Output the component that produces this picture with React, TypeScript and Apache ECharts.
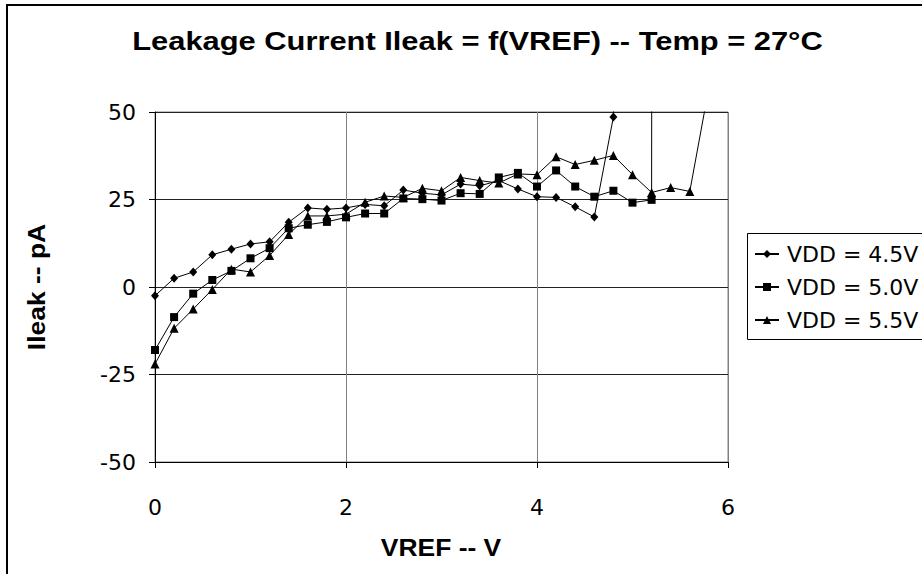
import React, { useEffect, useRef } from "react";
import * as echarts from "echarts";

const vref = [0, 0.2, 0.4, 0.6, 0.8, 1.0, 1.2, 1.4, 1.6, 1.8, 2.0, 2.2, 2.4, 2.6, 2.8, 3.0, 3.2, 3.4, 3.6, 3.8, 4.0, 4.2, 4.4, 4.6, 4.8, 5.0, 5.2, 5.4, 5.6, 5.8];

const vdd45 = [-2.5, 2.5, 4.3, 9.2, 10.8, 12.3, 12.9, 18.5, 22.6, 22.2, 22.6, 23.6, 23.2, 27.7, 26.8, 26.3, 29.4, 28.9, 30.4, 28.0, 25.8, 25.6, 22.9, 20.0, 48.6, 400];
const vdd50 = [-18.0, -8.6, -1.9, 2.0, 4.6, 8.2, 11.1, 16.8, 17.8, 18.6, 19.9, 21.0, 21.0, 25.3, 25.1, 24.7, 26.8, 26.6, 31.3, 32.6, 28.7, 33.3, 28.7, 25.8, 27.5, 24.1, 24.9, 5000];
const vdd55 = [-22.0, -11.8, -6.3, -0.7, 5.1, 4.3, 9.0, 15.0, 20.3, 20.3, 20.8, 24.2, 26.0, 25.6, 28.2, 27.5, 31.3, 30.4, 29.7, 32.3, 32.1, 37.2, 35.0, 36.2, 37.6, 32.1, 27.0, 28.4, 27.3, 57];

const seriesNames = ["VDD = 4.5V", "VDD = 5.0V", "VDD = 5.5V"];
const titleText = "Leakage Current Ileak = f(VREF) -- Temp = 27°C";
const xAxisTitle = "VREF -- V";
const yAxisTitle = "Ileak -- pA";

const FONT = '"Liberation Sans", Arial, sans-serif';
const WIDE = '"DejaVu Sans", "Liberation Sans", sans-serif';

export default function App() {
  const ref = useRef<HTMLDivElement>(null);
  useEffect(() => {
    document.body.style.margin = "0";
    const chart = echarts.init(ref.current!, null, { renderer: "svg" });
    const pair = (ys: number[]) => ys.map((y, i) => [vref[i], y]);
    const common = {
      type: "line",
      color: "#000",
      lineStyle: { color: "#000", width: 1 },
      itemStyle: { color: "#000" },
      clip: true,
      showSymbol: true,
    };
    chart.setOption({
      animation: false,
      backgroundColor: "#fff",
      textStyle: { fontFamily: WIDE },
      grid: {
        left: 155,
        top: 112,
        width: 573,
        height: 350,
        show: true,
        borderColor: "#808080",
        borderWidth: 1,
        containLabel: false,
      },
      xAxis: {
        type: "value",
        min: 0,
        max: 6,
        interval: 2,
        axisLine: { show: true, onZero: false, lineStyle: { color: "#000", width: 1 } },
        axisTick: { show: true, length: 6, lineStyle: { color: "#000" } },
        axisLabel: { color: "#000", fontSize: 22, margin: 34, fontFamily: WIDE },
        splitLine: { show: true, lineStyle: { color: "#808080", width: 1 } },
      },
      yAxis: {
        type: "value",
        min: -50,
        max: 50,
        interval: 25,
        axisLine: { show: true, onZero: false, lineStyle: { color: "#000", width: 1 } },
        axisTick: { show: true, length: 6, lineStyle: { color: "#000" } },
        axisLabel: { color: "#000", fontSize: 22, margin: 19, fontFamily: WIDE },
        splitLine: { show: true, lineStyle: { color: "#222", width: 1 } },
      },
      legend: {
        show: true,
        orient: "vertical",
        left: 754,
        top: 243,
        padding: 0,
        itemGap: 11,
        itemWidth: 24,
        itemHeight: 10,
        textStyle: { color: "#000", fontSize: 22, fontFamily: WIDE, padding: [0, 0, 0, 3] },
        data: seriesNames,
      },
      graphic: [
        {
          type: "rect",
          shape: { x: 7, y: 5, width: 1200, height: 1200 },
          style: { fill: "none", stroke: "#000", lineWidth: 2 },
          silent: true,
        },
        {
          type: "rect",
          shape: { x: 747.5, y: 233.5, width: 400, height: 106 },
          style: { fill: "none", stroke: "#000", lineWidth: 1 },
          silent: true,
        },
        {
          type: "text",
          x: 477.5,
          y: 41,
          scaleX: 1.187,
          style: { text: titleText, font: `bold 26px ${FONT}`, fill: "#000", align: "center", verticalAlign: "middle" },
        },
        {
          type: "text",
          x: 441,
          y: 548,
          scaleX: 1.15,
          style: { text: xAxisTitle, font: `bold 23px ${FONT}`, fill: "#000", align: "center", verticalAlign: "middle" },
        },
        {
          type: "text",
          x: 37,
          y: 287,
          rotation: Math.PI / 2,
          scaleX: 1.15,
          style: { text: yAxisTitle, font: `bold 23px ${FONT}`, fill: "#000", align: "center", verticalAlign: "middle" },
        },
      ],
      series: [
        { ...common, name: seriesNames[0], data: pair(vdd45), symbol: "diamond", symbolSize: [8, 9] },
        { ...common, name: seriesNames[1], data: pair(vdd50), symbol: "rect", symbolSize: 8 },
        { ...common, name: seriesNames[2], data: pair(vdd55), symbol: "triangle", symbolSize: 9 },
      ],
    });
    return () => chart.dispose();
  }, []);
  return <div ref={ref} style={{ width: 922, height: 574 }} />;
}
